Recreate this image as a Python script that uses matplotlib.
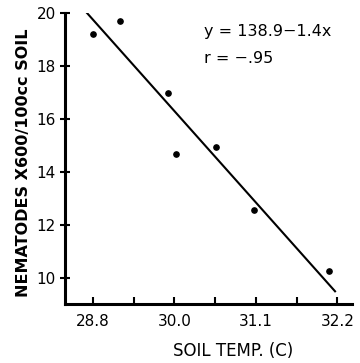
import numpy as np
import matplotlib
matplotlib.use('Agg')
import matplotlib.pyplot as plt

# tick temperatures (axis is evenly spaced between these labels)
tick_temps = [28.8, 30.0, 31.1, 32.2]
tick_labels = ['28.8', '30.0', '31.1', '32.2']
mid_temps = [29.4, 30.55, 31.65]

# observed points
soil_temp = [28.8, 29.2, 29.9, 30.02, 30.56, 31.08, 32.09]
nematodes = [19.2, 19.7, 17.0, 14.7, 14.95, 12.55, 10.25]

# fitted line end points
fit_temp = [28.68, 32.17]
fit_nem = [20.1, 9.5]

y_ticks = [10, 12, 14, 16, 18, 20]

pos = [0, 1, 2, 3]


def fwd(t):
    t = np.asarray(t, dtype=float)
    p = np.interp(t, tick_temps, pos)
    p = np.where(t < tick_temps[0], (t - tick_temps[0]) / 1.2, p)
    p = np.where(t > tick_temps[-1], 3 + (t - tick_temps[-1]) / 1.1, p)
    return p


def inv(p):
    p = np.asarray(p, dtype=float)
    t = np.interp(p, pos, tick_temps)
    t = np.where(p < 0, tick_temps[0] + p * 1.2, t)
    t = np.where(p > 3, tick_temps[-1] + (p - 3) * 1.1, t)
    return t


plt.rcParams['font.family'] = 'DejaVu Sans'

fig = plt.figure(figsize=(3.6, 3.63), dpi=100)
ax = fig.add_axes([0.1806, 0.1625, 0.7974, 0.8015])
ax.set_xscale('function', functions=(fwd, inv))

ax.plot(fit_temp, fit_nem, color='black', lw=1.5)
ax.plot(soil_temp, nematodes, 'o', color='black', ms=3.8)

ax.set_xlim(28.39, 32.40)
ax.set_ylim(9.02, 20)

ax.set_xticks(tick_temps)
ax.set_xticklabels(tick_labels)
ax.set_xticks(mid_temps, minor=True)
ax.set_yticks(y_ticks)
ax.set_yticklabels([str(v) for v in y_ticks])

for s in ['top', 'right']:
    ax.spines[s].set_visible(False)
for s in ['left', 'bottom']:
    ax.spines[s].set_linewidth(2.2)

ax.tick_params(axis='x', which='both', direction='in', length=5, width=1.5,
               labelsize=11, pad=7)
ax.tick_params(axis='y', direction='inout', length=7, width=1.5,
               labelsize=11, pad=3)

ax.set_ylabel('NEMATODES X600/100cc SOIL', fontsize=11.5, fontweight='bold')
ax.yaxis.set_label_coords(-0.118, 0.485)
ax.set_xlabel('SOIL TEMP. (C)', fontsize=12)
ax.xaxis.set_label_coords(0.585, -0.13)

ax.text(0.485, 0.935, 'y = 138.9\u22121.4x', transform=ax.transAxes,
        fontsize=11.5, va='center', ha='left')
ax.text(0.485, 0.845, 'r = \u2212.95', transform=ax.transAxes,
        fontsize=11.5, va='center', ha='left')

fig.savefig('out.png', dpi=100)
